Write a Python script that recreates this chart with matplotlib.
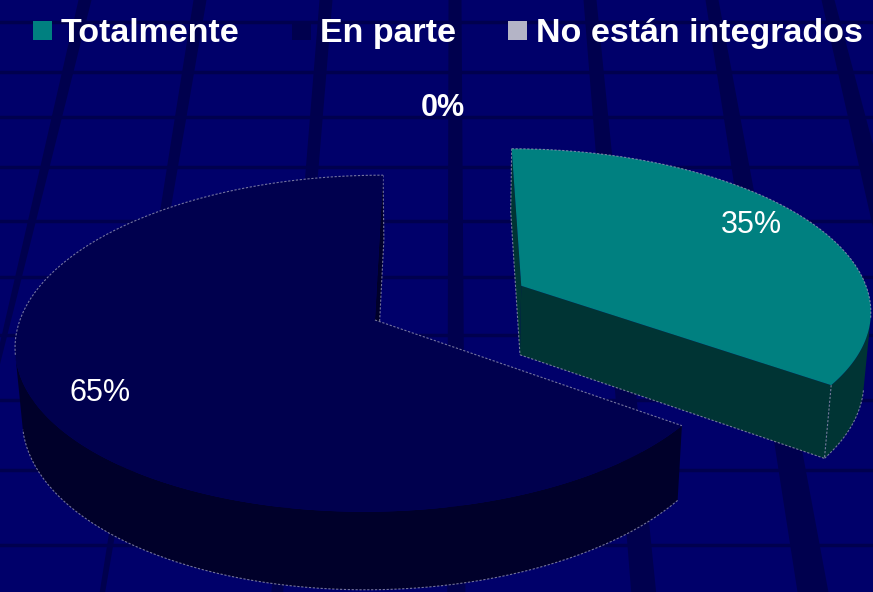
import numpy as np
import matplotlib.pyplot as plt
from matplotlib.patches import Polygon, Rectangle

# chart data
categories = ['Totalmente', 'En parte', 'No están integrados']
shares = [35, 65, 0]
pct_labels = ['35%', '65%', '0%']
explode = [0.47, 0.0, 0.0]

top_colors = ['#008080', '#00004E', '#B4B4C6']
side_colors = ['#003434', '#00002A', '#70708A']

# page look
bg_color = '#00006A'
grid_color = '#00004E'
edge_color = '#9A9AB6'

# 3d view of the pie, in figure pixels
W, H = 873, 592
PX, PY = 441, 320          # where the camera looks / where the pie centre sits vertically
ELEV = np.radians(27.7)
DIST = 6.35
FOCAL = 355 * DIST
CAM_X = 0.186              # camera sits a bit right of the pie centre
THICK = 0.228
CAM = np.array([CAM_X, -DIST * np.cos(ELEV), DIST * np.sin(ELEV)])


def project(x, y, z):
    x, y, z = np.asarray(x, float), np.asarray(y, float), np.asarray(z, float)
    depth = DIST + y * np.cos(ELEV) - z * np.sin(ELEV)
    sx = PX + FOCAL * (x - CAM_X) / depth
    sy = PY - FOCAL * (y * np.sin(ELEV) + z * np.cos(ELEV)) / depth
    return np.column_stack([sx, sy])


def runs(mask):
    # contiguous index ranges where mask is True
    out, start = [], None
    for i, m in enumerate(mask):
        if m and start is None:
            start = i
        if not m and start is not None:
            out.append((start, i))
            start = None
    if start is not None:
        out.append((start, len(mask)))
    return out


def outline(pts, z):
    pts = np.asarray(pts)
    ax.plot(pts[:, 0], pts[:, 1], color=edge_color, lw=0.8, alpha=0.75,
            ls=(0, (2, 1.5)), zorder=z)


fig = plt.figure(figsize=(W / 100, H / 100), dpi=100)
fig.patch.set_facecolor(bg_color)
ax = fig.add_axes([0, 0, 1, 1])
ax.set_xlim(0, W)
ax.set_ylim(H, 0)
ax.axis('off')

# background grid of the slide template
vp_x, vp_y = 452, -1550
for x0 in [85, 200, 326, 455, 590, 712, 828]:
    half = 6.5
    k1 = (x0 + half - vp_x) / (0 - vp_y)
    k0 = (x0 - half - vp_x) / (0 - vp_y)
    band = [(x0 - half, 0), (x0 + half, 0),
            (x0 + half + k1 * H * 1.08, H), (x0 - half + k0 * H * 0.95, H)]
    ax.add_patch(Polygon(band, closed=True, facecolor=grid_color,
                         edgecolor='none', zorder=0))
for y0 in [22, 72, 117, 167, 221, 277, 335, 400, 470, 545]:
    ax.axhline(y0, color=grid_color, lw=2.5, zorder=0)

# slice angles, clockwise from 12 o'clock
start = 90.0
slices = []
for i, s in enumerate(shares):
    a1 = start
    a2 = start - 360.0 * s / 100.0
    slices.append((i, a1, a2))
    start = a2

# far slices first
order = sorted(slices, key=lambda t: -explode[t[0]] * np.sin(np.radians((t[1] + t[2]) / 2)))

for rank, (i, a1, a2) in enumerate(order):
    if shares[i] == 0:
        continue
    zb = 2 + 3 * rank
    mid = np.radians((a1 + a2) / 2)
    ox, oy = explode[i] * np.cos(mid), explode[i] * np.sin(mid)
    th = np.radians(np.linspace(a1, a2, 240))
    xs, ys = ox + np.cos(th), oy + np.sin(th)
    top_arc = project(xs, ys, np.zeros_like(xs))
    bot_arc = project(xs, ys, -THICK * np.ones_like(xs))
    c_top = project([ox], [oy], [0])[0]
    c_bot = project([ox], [oy], [-THICK])[0]

    # flat radial faces
    for a, nrm in [(np.radians(a1), np.radians(a1) + np.pi / 2),
                   (np.radians(a2), np.radians(a2) - np.pi / 2)]:
        px, py = ox + 0.5 * np.cos(a), oy + 0.5 * np.sin(a)
        vis = np.cos(nrm) * (CAM[0] - px) + np.sin(nrm) * (CAM[1] - py) > 1e-6
        e_top = project([ox + np.cos(a)], [oy + np.sin(a)], [0])[0]
        e_bot = project([ox + np.cos(a)], [oy + np.sin(a)], [-THICK])[0]
        if vis:
            ax.add_patch(Polygon([c_top, e_top, e_bot, c_bot], closed=True,
                                 facecolor=side_colors[i], edgecolor='none', zorder=zb))
            outline([e_top, e_bot, c_bot], zb + 0.5)
        else:
            outline([c_top, e_top], zb + 1.5)

    # outer curved wall where it faces the camera
    wall_vis = np.cos(th) * (CAM[0] - xs) + np.sin(th) * (CAM[1] - ys) > 0
    for r0, r1 in runs(wall_vis):
        poly = np.vstack([top_arc[r0:r1], bot_arc[r0:r1][::-1]])
        ax.add_patch(Polygon(poly, closed=True, facecolor=side_colors[i],
                             edgecolor='none', zorder=zb))
        outline(bot_arc[r0:r1], zb + 0.5)
    for r0, r1 in runs(~wall_vis):
        outline(top_arc[r0:r1], zb + 1.5)

    # top face
    ax.add_patch(Polygon(np.vstack([c_top, top_arc]), closed=True,
                         facecolor=top_colors[i], edgecolor='none', zorder=zb + 1))

# percentage labels
for i, a1, a2 in slices:
    mid = np.radians((a1 + a2) / 2)
    ox, oy = explode[i] * np.cos(mid), explode[i] * np.sin(mid)
    if shares[i] == 0:
        ang, r, weight = mid - np.radians(7), 1.58, 'bold'
    else:
        ang, r, weight = mid + np.radians(3), 0.83, 'normal'
    p = project([ox + r * np.cos(ang)], [oy + r * np.sin(ang)], [0])[0]
    ax.text(p[0], p[1], pct_labels[i], color='white', fontsize=22,
            fontweight=weight, family='Liberation Sans',
            ha='center', va='center', zorder=20)

# legend across the top
legend_x = [33, 292, 508]
for i, name in enumerate(categories):
    x0 = legend_x[i]
    ax.add_patch(Rectangle((x0, 21), 19, 19, facecolor=top_colors[i],
                           edgecolor='none', zorder=20))
    ax.text(x0 + 28, 42, name, color='white', fontsize=24.5, fontweight='bold',
            family='Liberation Sans', ha='left', va='baseline', zorder=20)

fig.savefig('out.png', dpi=100, facecolor=bg_color)
